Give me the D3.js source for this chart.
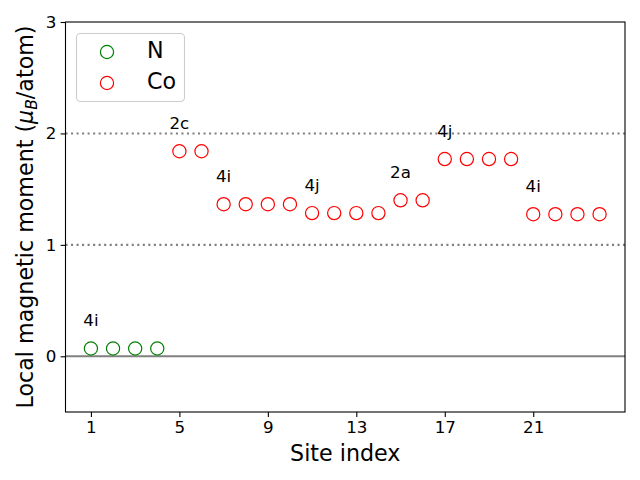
<!DOCTYPE html>
<html><head><meta charset="utf-8">
<script src="https://cdn.jsdelivr.net/npm/d3@7"></script>
<style>body{margin:0;background:#fff}svg{display:block;font-family:"DejaVu Sans",sans-serif}</style>
</head><body>
<svg id="c" width="640" height="480"></svg>
<script>
const nSites = [1,2,3,4];
const nValues = [0.07,0.07,0.07,0.07];
const coSites = [5,6,7,8,9,10,11,12,13,14,15,16,17,18,19,20,21,22,23,24];
const coValues = [1.84,1.84,1.365,1.365,1.365,1.365,1.285,1.285,1.285,1.285,1.40,1.40,1.77,1.77,1.77,1.77,1.275,1.275,1.275,1.275];
const wyckoffLabels = ["4i","2c","4i","4j","2a","4j","4i"];
const wyckoffSites = [1,5,7,11,15,17,21];
const wyckoffValues = [0.07,1.84,1.365,1.285,1.40,1.77,1.275];
const xTicks = [1,5,9,13,17,21];
const yTicks = [0,1,2,3];
const refLines = [1,2];

const svg = d3.select("#c");
const L=65.5, R=625, T=22, B=412;
const x = d3.scaleLinear().domain([-0.15,25.15]).range([L,R]);
const y = d3.scaleLinear().domain([-0.5,3]).range([B,T]);

// reference lines
svg.selectAll("line.ref").data(refLines).enter().append("line")
  .attr("x1",L).attr("x2",R).attr("y1",d=>y(d)).attr("y2",d=>y(d))
  .attr("stroke","#808080").attr("stroke-width",2.08).attr("stroke-dasharray","2.08,3.44");
svg.append("line").attr("x1",L).attr("x2",R).attr("y1",y(0)).attr("y2",y(0))
  .attr("stroke","#808080").attr("stroke-width",2.08);

// points
svg.selectAll("circle.n").data(nSites).enter().append("circle")
  .attr("cx",d=>x(d)).attr("cy",(d,i)=>y(nValues[i])).attr("r",6.6)
  .attr("fill","none").attr("stroke","green").attr("stroke-width",1.2);
svg.selectAll("circle.co").data(coSites).enter().append("circle")
  .attr("cx",d=>x(d)).attr("cy",(d,i)=>y(coValues[i])).attr("r",6.6)
  .attr("fill","none").attr("stroke","red").attr("stroke-width",1.2);

// labels
svg.selectAll("text.wl").data(wyckoffLabels).enter().append("text")
  .attr("x",(d,i)=>x(wyckoffSites[i])).attr("y",(d,i)=>y(wyckoffValues[i]+0.2))
  .attr("text-anchor","middle").attr("font-size",16.7).attr("fill","#000").text(d=>d);

// axes
const xa = svg.append("g").attr("transform",`translate(0,${B})`)
  .call(d3.axisBottom(x).tickValues(xTicks).tickSize(4.9).tickPadding(4.2).tickFormat(d3.format("d")));
const ya = svg.append("g").attr("transform",`translate(${L},0)`)
  .call(d3.axisLeft(y).tickValues(yTicks).tickSize(4.9).tickPadding(4.2).tickFormat(d3.format("d")));
[xa,ya].forEach(g=>{g.select(".domain").remove();g.selectAll("text").attr("font-size",16.7).attr("font-family","DejaVu Sans").attr("fill","#000");g.selectAll("line").attr("stroke","#000").attr("stroke-width",1.1);});
svg.append("rect").attr("x",L).attr("y",T).attr("width",R-L).attr("height",B-T)
  .attr("fill","none").attr("stroke","#000").attr("stroke-width",1.1);

// axis labels
svg.append("text").attr("x",(L+R)/2).attr("y",461).attr("text-anchor","middle").attr("font-size",22.2).text("Site index");
const yl = svg.append("text").attr("transform",`translate(33,${(T+B)/2}) rotate(-90)`).attr("text-anchor","middle").attr("font-size",22.2);
yl.append("tspan").text("Local magnetic moment (");
yl.append("tspan").attr("font-style","italic").text("μ");
yl.append("tspan").attr("font-style","italic").attr("font-size",15.5).attr("dy",3.5).text("B");
yl.append("tspan").attr("dy",-3.5).text("/atom)");

// legend
const lg = svg.append("g");
lg.append("rect").attr("x",76.5).attr("y",33.5).attr("width",108).attr("height",68).attr("rx",4)
  .attr("fill","#fff").attr("fill-opacity",0.8).attr("stroke","#cccccc").attr("stroke-width",1.1);
const legItems = [{name:"N",color:"green"},{name:"Co",color:"red"}];
legItems.forEach((d,i)=>{
  const cy = 52 + i*31;
  lg.append("circle").attr("cx",107).attr("cy",cy).attr("r",6.6).attr("fill","none").attr("stroke",d.color).attr("stroke-width",1.2);
  lg.append("text").attr("x",147).attr("y",cy+6).attr("font-size",22.2).text(d.name);
});
</script>
</body></html>
